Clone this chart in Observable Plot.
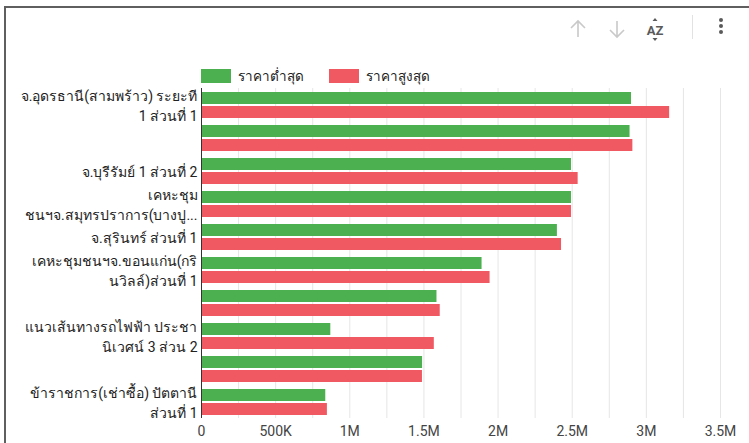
<!DOCTYPE html>
<html>
<head>
<meta charset="utf-8">
<script src="https://cdn.jsdelivr.net/npm/d3@7"></script>
<script src="https://cdn.jsdelivr.net/npm/@observablehq/plot@0.6"></script>
<style>
  html, body { margin: 0; padding: 0; background: #fff; overflow: hidden; }
  #wrap { position: relative; width: 749px; height: 443px; font-family: Roboto, "Noto Sans", Arial, sans-serif; }
  #frame { position: absolute; left: 4px; top: 6px; width: 760px; height: 460px; border-left: 2px solid #5f5f5f; border-top: 2px solid #5f5f5f; pointer-events: none; }
  #legend { position: absolute; top: 65px; left: 201px; display: flex; font-size: 13.5px; color: #222; }
  .item { display: flex; align-items: center; margin-right: 25px; }
  .sw { width: 30px; height: 14px; margin-right: 7px; }
  #toolbar { position: absolute; left: 560px; top: 10px; }
</style>
</head>
<body>
<div id="wrap">
  <div id="chart"></div>
  <div id="legend"></div>
  <svg id="toolbar" width="189" height="40" viewBox="0 0 189 40">
    <g fill="none" stroke="#c9c9c9" stroke-width="1.6">
      <path d="M18 27 V11 M11 18 L18 11 L25 18"/>
      <path d="M57 11 V27 M50 20 L57 27 L64 20"/>
    </g>
    <text x="95" y="25" text-anchor="middle" font-family="Roboto, Arial, sans-serif" font-size="13" font-weight="bold" fill="#5a5a5a">AZ</text>
    <path d="M92.5 11 L95 8 L97.5 11 Z M92.5 28 L95 31 L97.5 28 Z" fill="#5a5a5a"/>
    <rect x="132" y="5" width="1" height="24" fill="#e2e2e2"/>
    <g fill="#5a5a5a"><circle cx="161" cy="10" r="2"/><circle cx="161" cy="16" r="2"/><circle cx="161" cy="22" r="2"/></g>
  </svg>
  <div id="frame"></div>
</div>
<script>
const series = ["ราคาต่ำสุด", "ราคาสูงสุด"];
const seriesColors = ["#4caf50", "#f05862"];
const categoryIds = ["c1", "c2", "c3", "c4", "c5", "c6", "c7", "c8", "c9", "c10"];
const categoryLabels = [
  ["จ.อุดรธานี(สามพร้าว) ระยะที", "1 ส่วนที่ 1"],
  [],
  ["จ.บุรีรัมย์ 1 ส่วนที่ 2"],
  ["เคหะชุม", "ชนฯจ.สมุทรปราการ(บางปู..."],
  ["จ.สุรินทร์ ส่วนที่ 1"],
  ["เคหะชุมชนฯจ.ขอนแก่น(กริ", "นวิลล์)ส่วนที่ 1"],
  [],
  ["แนวเส้นทางรถไฟฟ้า ประชา", "นิเวศน์ 3 ส่วน 2"],
  [],
  ["ข้าราชการ(เช่าซื้อ) ปัตตานี", "ส่วนที่ 1"]
];
const lowPrices  = [2900000, 2890000, 2495000, 2495000, 2400000, 1892000, 1588000, 872000, 1491000, 838000];
const highPrices = [3157000, 2909000, 2540000, 2495000, 2428000, 1946000, 1610000, 1570000, 1490000, 849000];
const xTicks = [0, 500000, 1000000, 1500000, 2000000, 2500000, 3000000, 3500000];
const xTickLabels = ["0", "500K", "1M", "1.5M", "2M", "2.5M", "3M", "3.5M"];
const gridValues = [250000, 500000, 750000, 1000000, 1250000, 1500000, 1750000, 2000000, 2250000, 2500000, 2750000, 3000000, 3250000, 3500000];

const rows = [];
categoryIds.forEach((c, i) => {
  rows.push({category: c, series: series[0], value: lowPrices[i], label: categoryLabels[i].join("\n")});
  rows.push({category: c, series: series[1], value: highPrices[i], label: categoryLabels[i].join("\n")});
});

const chart = Plot.plot({
  width: 749,
  height: 443,
  marginLeft: 201,
  marginRight: 29,
  marginTop: 85,
  marginBottom: 22,
  style: {fontFamily: "Roboto, 'Noto Sans', Arial, sans-serif", fontSize: "14px", color: "#444", background: "transparent"},
  facet: {data: rows, y: "category"},
  fy: {domain: categoryIds, padding: 0, axis: null, label: null},
  y: {domain: series, axis: null, paddingInner: 0.17, paddingOuter: 0.26},
  x: {domain: [0, 3500000], ticks: xTicks, tickFormat: d => xTickLabels[xTicks.indexOf(d)], tickSize: 0, tickPadding: 8, label: null},
  color: {domain: series, range: seriesColors},
  marks: [
    Plot.ruleX(gridValues, {stroke: "#e6e6e6", strokeWidth: 1}),
    Plot.barX(rows, {x: "value", y: "series", fill: "series"}),
    Plot.ruleX([0], {stroke: "#333", strokeWidth: 1}),
    Plot.text(rows, {filter: d => d.series === series[0], text: "label", frameAnchor: "left", textAnchor: "end", dx: -4, lineHeight: 1.4, fill: "#222", fontSize: 14})
  ]
});
document.getElementById("chart").appendChild(chart);

const legend = document.getElementById("legend");
series.forEach((s, i) => {
  const item = document.createElement("div");
  item.className = "item";
  item.innerHTML = `<div class="sw" style="background:${seriesColors[i]}"></div><span>${s}</span>`;
  legend.appendChild(item);
});
</script>
</body>
</html>
